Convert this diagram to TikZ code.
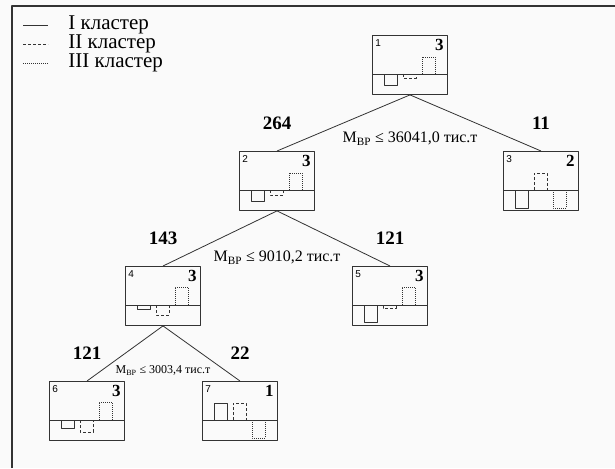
\documentclass[tikz,border=0pt]{standalone}
\usepackage{fontspec}
\setmainfont{Liberation Serif}
\setsansfont{Liberation Sans}
\usetikzlibrary{positioning,calc}
\definecolor{ink}{HTML}{333333}
\tikzset{
  every picture/.style={
    line join=round,
    line width=0.8pt,
  },
  nodebox/.style={draw=ink, line width=0.9pt, minimum width=75pt, minimum height=59pt,
    inner sep=0pt, anchor=north},
  solidbar/.style={draw=ink, line width=0.8pt},
  dashbar/.style={draw=ink, line width=0.8pt, dash pattern=on 3pt off 2pt},
  dotbar/.style={draw=ink, line width=0.7pt, dash pattern=on 0.8pt off 1.2pt},
  nid/.style={font=\sffamily\fontsize{10}{10}\selectfont, inner sep=0pt, anchor=north west},
  ncls/.style={font=\bfseries\fontsize{17}{17}\selectfont, inner sep=0pt, anchor=north east},
  count/.style={font=\bfseries\fontsize{19}{19}\selectfont, inner sep=0pt},
  cond/.style={font=\fontsize{16}{16}\selectfont, inner sep=0pt},
  legendtext/.style={font=\fontsize{21}{21}\selectfont, inner sep=0pt, anchor=west},
  edge/.style={draw=ink, line width=0.8pt},
}
% #1 name, #2,#3 top centre, #4 number, #5 class, #6-#8 bars (down is positive)
\newcommand{\treenode}[8]{
  \node[nodebox] (#1) at (#2,#3) {};
  \coordinate (#1base) at ([yshift=-39pt]#1.north west);
  \draw[ink, line width=0.9pt] (#1base) -- ([yshift=-39pt]#1.north east);
  \node[nid] at ([shift={(3pt,-4pt)}]#1.north west) {#4};
  \node[ncls] at ([shift={(-4pt,-4pt)}]#1.north east) {#5};
  \draw[solidbar] ([xshift=12pt]#1base) rectangle ++(13,#6);
  \draw[dashbar] ([xshift=31pt]#1base) rectangle ++(13,#7);
  \draw[dotbar] ([xshift=50pt]#1base) rectangle ++(13,#8);
}
\begin{document}
\begin{tikzpicture}[x=1pt,y=-1pt]
\useasboundingbox (0,0) rectangle (615,468);
\fill[white!98!black] (0,0) rectangle (615,468);
% frame
\draw[ink, line width=1.3pt] (12,468) -- (12,6) -- (615,6);
% legend
\coordinate (la) at (23,25);
\coordinate (lb) at (48,25);
\coordinate (lc) at (23,44);
\coordinate (ld) at (48,44);
\coordinate (le) at (23,63);
\coordinate (lf) at (48,63);
\draw[solidbar] (la) -- (lb);
\draw[dashbar] (lc) -- (ld);
\draw[dotbar] (le) -- (lf);
\node[legendtext] (l1) at (68,25) {I кластер};
\node[legendtext] (l2) at (68,44) {II кластер};
\node[legendtext] (l3) at (68,63) {III кластер};
% tree
\treenode{n1}{410}{35}{1}{3}{11}{4}{-17}
\treenode{n2}{277}{151}{2}{3}{11}{5}{-17}
\treenode{n3}{541}{151}{3}{2}{18}{-17}{18}
\treenode{n4}{163}{266}{4}{3}{4}{10}{-18}
\treenode{n5}{390}{266}{5}{3}{17}{3}{-18}
\treenode{n6}{87}{381}{6}{3}{8}{12}{-18}
\treenode{n7}{240}{381}{7}{1}{-17}{-17}{18}
\draw[edge] (n1.south) -- (n2.north);
\draw[edge] (n1.south) -- (n3.north);
\draw[edge] (n2.south) -- (n4.north);
\draw[edge] (n2.south) -- (n5.north);
\draw[edge] (n4.south) -- (n6.north);
\draw[edge] (n4.south) -- (n7.north);
% counts
\node[count] (c2) at ([yshift=28pt]n2.north) {264};
\node[count] (c3) at ([yshift=28pt]n3.north) {11};
\node[count] (c4) at ([yshift=28pt]n4.north) {143};
\node[count] (c5) at ([yshift=28pt]n5.north) {121};
\node[count] (c6) at ([yshift=28pt]n6.north) {121};
\node[count] (c7) at ([yshift=28pt]n7.north) {22};
% split rules
\node[cond] (s1) at ([yshift=-44pt]n1.south) {M\textsubscript{ВР} ≤ 36041,0 тис.т};
\node[cond] (s2) at ([yshift=-47pt]n2.south) {M\textsubscript{ВР} ≤ 9010,2 тис.т};
\node[cond, font=\fontsize{12}{12}\selectfont] (s4) at ([yshift=-45pt]n4.south) {M\textsubscript{ВР} ≤ 3003,4 тис.т};
\end{tikzpicture}
\end{document}
